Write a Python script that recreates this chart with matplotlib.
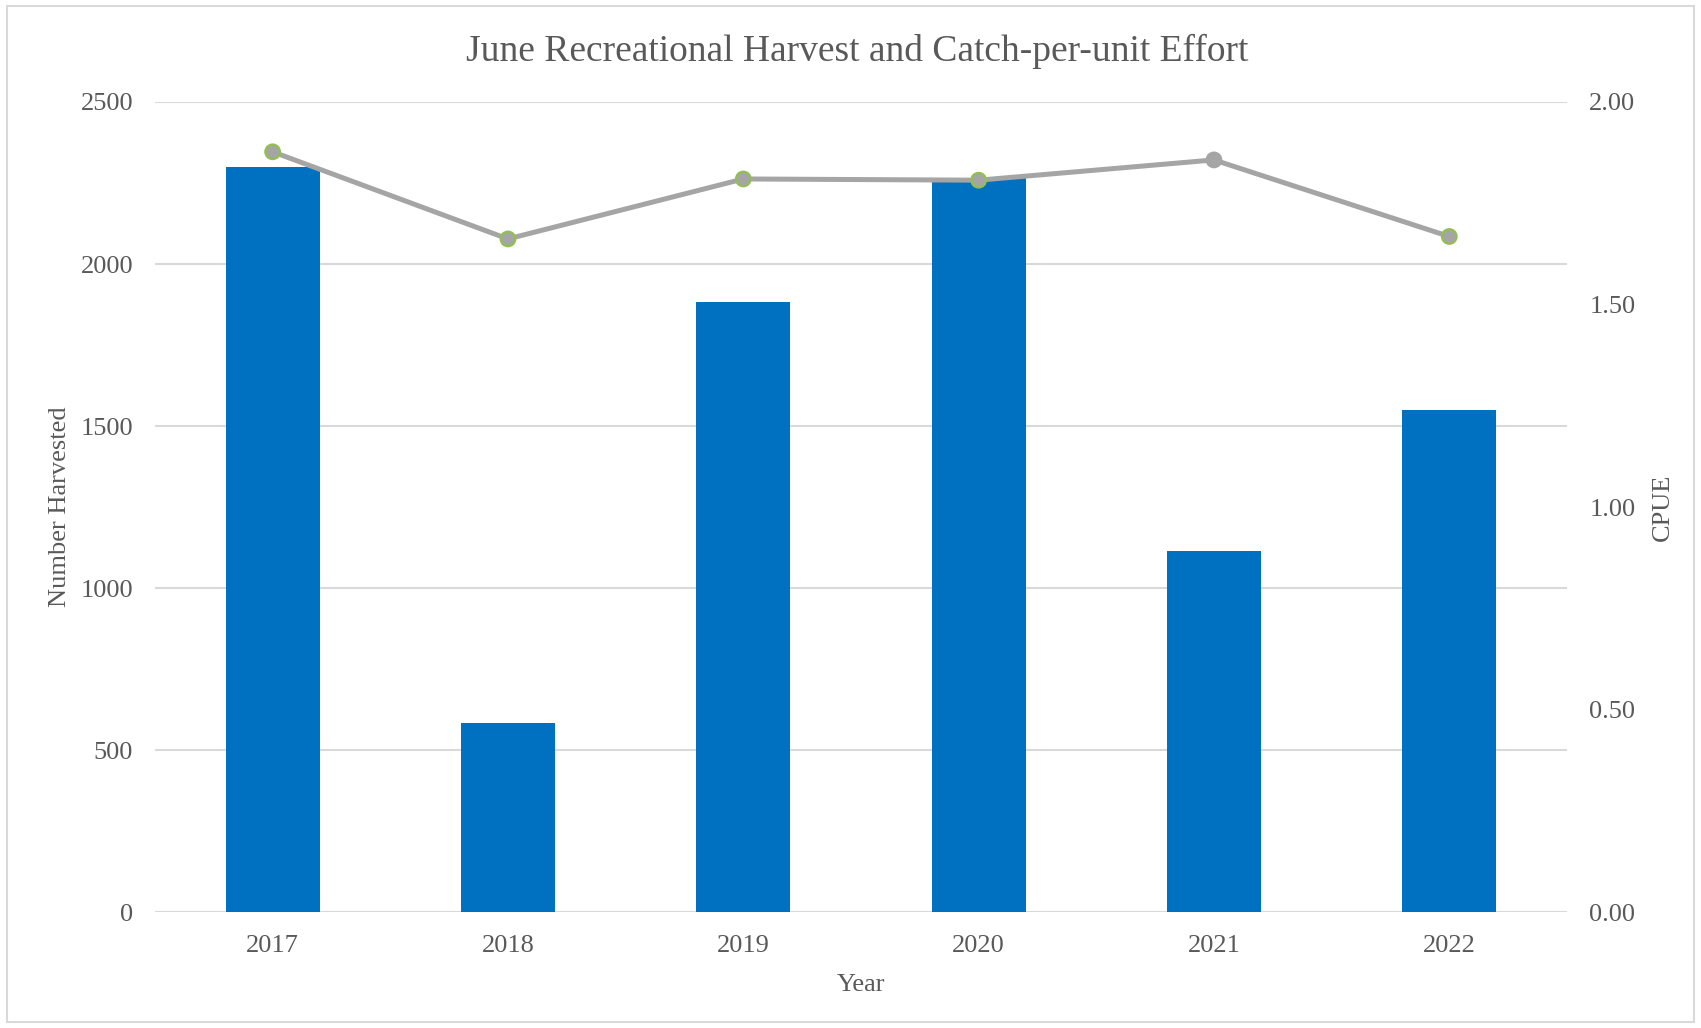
import matplotlib
matplotlib.use("Agg")
import matplotlib.pyplot as plt
from matplotlib.patches import Rectangle
import numpy as np

years = ["2017", "2018", "2019", "2020", "2021", "2022"]
harvest = [2300, 585, 1883, 2267, 1114, 1549]
cpue = [1.877, 1.662, 1.810, 1.807, 1.857, 1.668]

plt.rcParams['font.family'] = ['Liberation Serif', 'DejaVu Serif']
text_color = '#595959'

fig = plt.figure(figsize=(17.01, 10.28), dpi=100)
ax = fig.add_axes([0.0911, 0.1125, 0.8301, 0.7883])
x = np.arange(len(years))
ax.bar(x, harvest, width=0.4, color='#0070C0', zorder=3)
ax.set_xlim(-0.5, len(years) - 0.5)
ax.set_ylim(0, 2500)
ax.set_yticks(range(0, 2501, 500))
ax.grid(axis='y', color='#D9D9D9', linewidth=1.5, zorder=0)
for s in ax.spines.values():
    s.set_visible(False)
ax.tick_params(length=0, labelsize=19, colors=text_color, pad=15.7)
ax.tick_params(axis='x', pad=16.3)
ax.set_xticks(x)
ax.set_xticklabels(years)
ax.set_xlabel('Year', fontsize=19, color=text_color, labelpad=12.5)
ax.set_ylabel('Number Harvested', fontsize=19, color=text_color, labelpad=7)

ax2 = ax.twinx()
ax2.set_ylim(0, 2.0)
ax2.set_yticks(np.arange(0, 2.01, 0.5))
ax2.set_yticklabels([f"{v:.2f}" for v in np.arange(0, 2.01, 0.5)])
for s in ax2.spines.values():
    s.set_visible(False)
ax2.tick_params(length=0, labelsize=19, colors=text_color, pad=16)
ax2.set_ylabel('CPUE', fontsize=19, color=text_color, labelpad=12)
ax2.plot(x, cpue, color='#A5A5A5', linewidth=3.6, zorder=3, solid_capstyle='round')
edge_cols = ['#92C050', '#92C050', '#92C050', '#92C050', '#A5A5A5', '#92C050']
ax2.scatter(x, cpue, s=110, color='#A5A5A5', edgecolors=edge_cols, linewidths=1.6, zorder=4)

fig.text(0.504, 0.950, 'June Recreational Harvest and Catch-per-unit Effort',
         ha='center', va='center', fontsize=27, color=text_color)

fig.patches.append(Rectangle((0.004, 0.006), 0.992, 0.988, transform=fig.transFigure,
                             fill=False, edgecolor='#D9D9D9', linewidth=1.5))

fig.savefig('out.png', dpi=100)
